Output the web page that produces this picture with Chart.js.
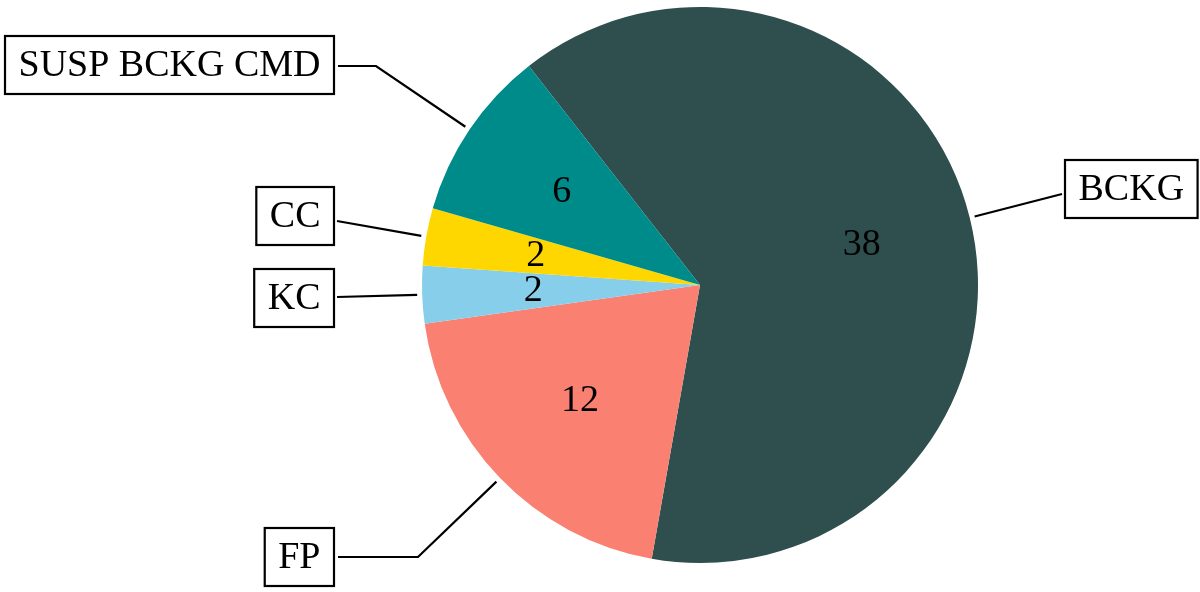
<!DOCTYPE html>
<html>
<head>
<meta charset="utf-8">
<script src="https://cdn.jsdelivr.net/npm/chart.js@4/dist/chart.umd.min.js"></script>
<style>
  html, body { margin: 0; padding: 0; background: #fff; }
  #wrap { width: 1200px; height: 592px; }
</style>
</head>
<body>
<div id="wrap"><canvas id="pieCanvas" width="1200" height="592"></canvas></div>
<script>
// data, clockwise from the top-left boundary
const categories = ['BCKG', 'FP', 'KC', 'CC', 'SUSP BCKG CMD'];
const counts = [38, 12, 2, 2, 6];
const sliceColors = ['#2F4F4F', '#FA8072', '#87CEEB', '#FFD700', '#008B8B'];

// callout layout: which side the box sits on, its edge x, centre y,
// where the leader line leaves the box and an optional elbow x
const callouts = [
  { side: 'right', edge: 1065, cy: 189, lineX: 1062, lineY: 194, elbow: null },
  { side: 'left', edge: 334, cy: 557, lineX: 338, lineY: 557, elbow: 418 },
  { side: 'left', edge: 334, cy: 298, lineX: 337, lineY: 297, elbow: null },
  { side: 'left', edge: 334, cy: 216, lineX: 337, lineY: 221, elbow: null },
  { side: 'left', edge: 334, cy: 65, lineX: 338, lineY: 66, elbow: 376 }
];

const FONT = '38px "Liberation Serif", "Times New Roman", serif';

// draws the numbers inside the slices and the boxed labels outside
const calloutPlugin = {
  id: 'callouts',
  afterDraw(chart) {
    const ctx = chart.ctx;
    const meta = chart.getDatasetMeta(0);
    ctx.save();
    ctx.font = FONT;
    ctx.fillStyle = '#000';
    ctx.strokeStyle = '#000';
    ctx.lineWidth = 2.2;

    meta.data.forEach((arc, i) => {
      const p = arc.getProps(['x', 'y', 'startAngle', 'endAngle', 'outerRadius'], true);
      const mid = (p.startAngle + p.endAngle) / 2;

      // value inside the slice
      const rIn = p.outerRadius * 0.6;
      ctx.textAlign = 'center';
      ctx.textBaseline = 'middle';
      ctx.fillText(String(counts[i]), p.x + Math.cos(mid) * rIn, p.y + Math.sin(mid) * rIn);

      // leader line
      const c = callouts[i];
      const rOut = p.outerRadius + 5;
      const tx = p.x + Math.cos(mid) * rOut;
      const ty = p.y + Math.sin(mid) * rOut;
      ctx.beginPath();
      ctx.moveTo(c.lineX, c.lineY);
      if (c.elbow !== null) ctx.lineTo(c.elbow, c.lineY);
      ctx.lineTo(tx, ty);
      ctx.stroke();

      // boxed label
      const w = ctx.measureText(categories[i]).width + 27;
      const h = 58;
      const bx = c.side === 'left' ? c.edge - w : c.edge;
      const by = c.cy - h / 2;
      ctx.fillStyle = '#fff';
      ctx.fillRect(bx, by, w, h);
      ctx.strokeRect(bx, by, w, h);
      ctx.fillStyle = '#000';
      ctx.fillText(categories[i], bx + w / 2, c.cy + 1);
    });
    ctx.restore();
  }
};

new Chart(document.getElementById('pieCanvas'), {
  type: 'pie',
  data: {
    labels: categories,
    datasets: [{
      data: counts,
      backgroundColor: sliceColors,
      borderWidth: 0
    }]
  },
  options: {
    responsive: false,
    animation: false,
    rotation: -38,
    layout: { padding: { left: 422, right: 222, top: 7, bottom: 29 } },
    plugins: {
      legend: { display: false },
      tooltip: { enabled: false }
    }
  },
  plugins: [calloutPlugin]
});
</script>
</body>
</html>
